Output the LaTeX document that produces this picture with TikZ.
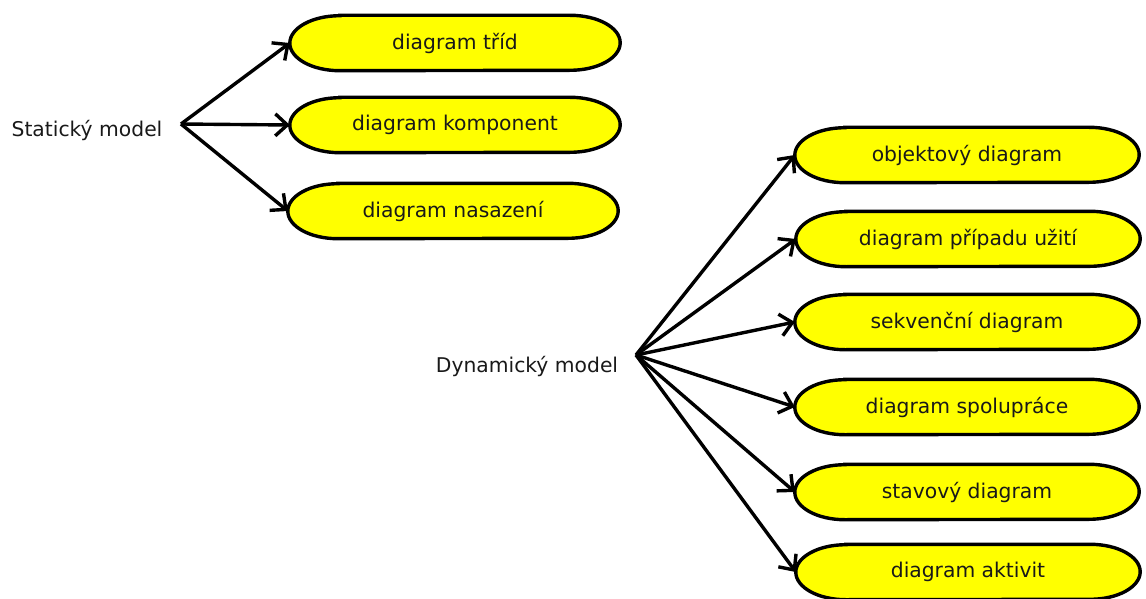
\documentclass[tikz,border=0pt]{standalone}
\usepackage{fontspec}
\setmainfont{DejaVu Sans}
\usetikzlibrary{arrows.meta,backgrounds}
\definecolor{boxfill}{RGB}{255,255,0}
\definecolor{ink}{RGB}{25,25,25}
\begin{document}
\begin{tikzpicture}[x=1pt,y=-1pt,
  diag/.style={minimum height=55pt, inner sep=0pt, font=\fontsize{20.3}{24}\selectfont, text=ink},
  statbox/.style={diag, minimum width=330pt},
  dynbox/.style={diag, minimum width=344pt},
  outline/.style={draw=black, line width=3.4pt, fill=boxfill},
  label/.style={font=\fontsize{20.3}{24}\selectfont, text=ink, inner sep=0pt},
  link/.style={line width=3.4pt, -{Straight Barb[length=12pt,width=22pt,line width=3.4pt]}}]
\useasboundingbox (0,0) rectangle (1146,599);

% static model
\node[label] (stat) at (87,130) {Statický model};
\coordinate (s0) at (181,124);
\node[statbox] (trid) at (455,43) {diagram tříd};
\node[statbox] (komp) at (455,125) {diagram komponent};
\node[statbox] (nasaz) at (453,211) {diagram nasazení};
\draw[link] (s0) -- (trid.west);
\draw[link] (s0) -- (komp.west);
\draw[link] (s0) -- (nasaz.west);

% dynamic model
\node[label] (dyn) at (527,366) {Dynamický model};
\coordinate (d0) at (636,355);
\node[dynbox] (obj) at (967,155) {objektový diagram};
\node[dynbox] (use) at (968,239) {diagram případu užití};
\node[dynbox] (seq) at (967,322) {sekvenční diagram};
\node[dynbox] (col) at (967,407) {diagram spolupráce};
\node[dynbox] (sta) at (967,492) {stavový diagram};
\node[dynbox] (act) at (968,572) {diagram aktivit};
\foreach \t in {obj,use,seq,col,sta,act}
  \draw[link] (d0) -- (\t.west);

% pill outlines with elliptic ends, behind the labels
\begin{scope}[on background layer]
\foreach \t in {trid,komp,nasaz,obj,use,seq,col,sta,act}
  \draw[outline] ([xshift=50pt]\t.north west) -- ([xshift=-50pt]\t.north east)
    arc[start angle=90, end angle=-90, x radius=50pt, y radius=27.5pt]
    -- ([xshift=50pt]\t.south west)
    arc[start angle=270, end angle=90, x radius=50pt, y radius=27.5pt] -- cycle;
\end{scope}
\end{tikzpicture}
\end{document}
